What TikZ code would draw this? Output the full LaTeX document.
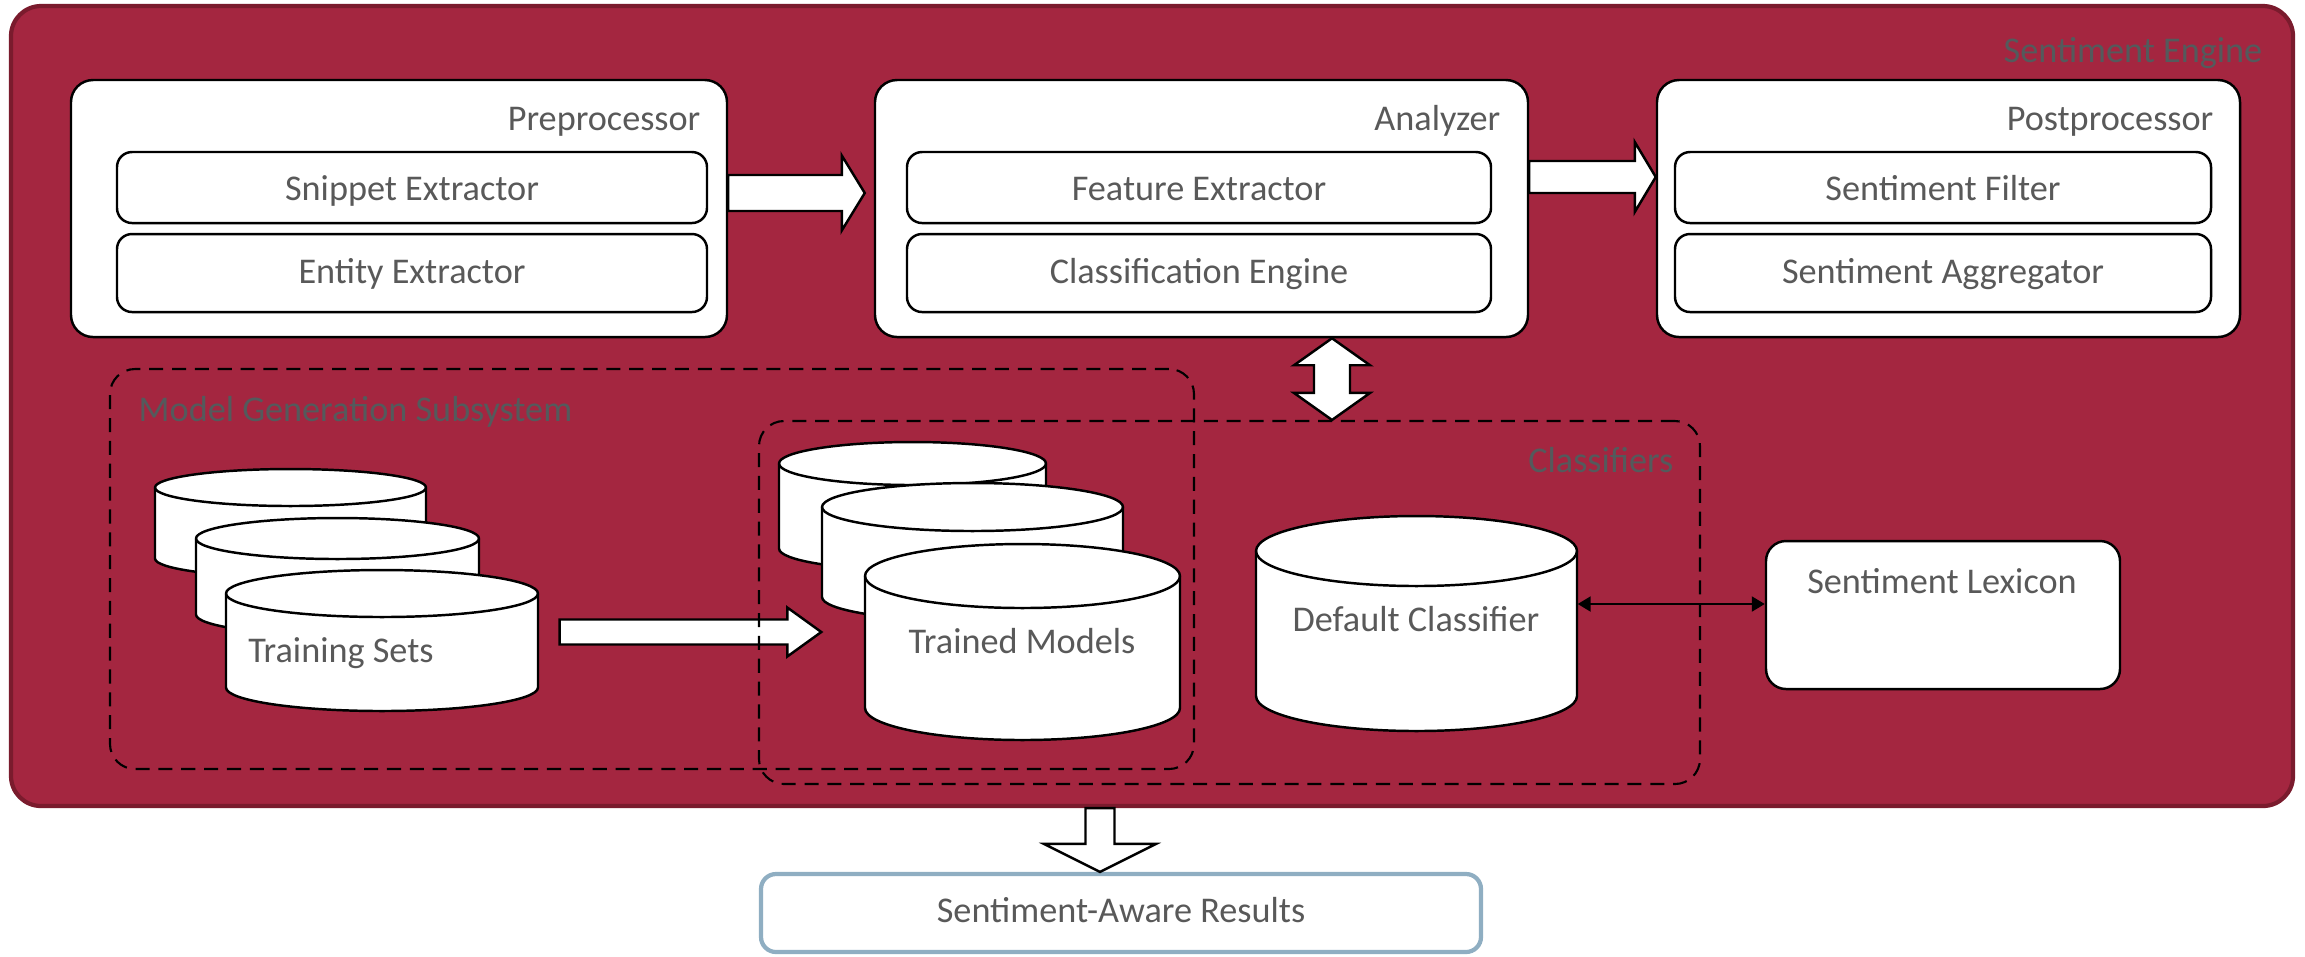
\documentclass[tikz,border=0pt]{standalone}
\usepackage{fontspec}
\setmainfont{Carlito}
\usetikzlibrary{calc,fit,arrows.meta}

\definecolor{enginered}{RGB}{164,38,64}
\definecolor{engineedge}{RGB}{122,27,45}
\definecolor{labelgray}{RGB}{89,89,89}
\definecolor{groupgray}{RGB}{84,90,92}
\definecolor{resultblue}{RGB}{143,174,194}

\newcommand{\lblfont}{\fontsize{10.3}{12}\selectfont}

\tikzset{
    engine/.style={draw=engineedge, fill=enginered, line width=1.2pt, rounded corners=0.3cm, inner sep=0pt},
    panel/.style={draw=black, fill=white, line width=0.7pt, rounded corners=0.22cm, inner sep=0pt},
    part/.style={panel, rounded corners=0.15cm},
    title/.style={font=\lblfont, text=labelgray, inner sep=0pt},
    grouptitle/.style={font=\lblfont, text=groupgray, inner sep=0pt},
    group/.style={draw=black, dash pattern=on 4pt off 2.5pt, line width=0.6pt, rounded corners=0.25cm, inner sep=0pt},
    blockarrow/.style={draw=black, fill=white, line width=0.7pt, line join=miter},
    db/.style={draw=black, fill=white, line width=0.7pt},
}

% block arrows: from, to, shaft half width, head half width, head length (px)
\newcommand{\rightblock}[5]{%
    \draw[blockarrow] let \p1=(#1), \p2=(#2) in
        (\x1,\y1+#3*0.01cm) -- (\x2-#5*0.01cm,\y1+#3*0.01cm) -- (\x2-#5*0.01cm,\y1+#4*0.01cm)
        -- (\x2,\y1) -- (\x2-#5*0.01cm,\y1-#4*0.01cm) -- (\x2-#5*0.01cm,\y1-#3*0.01cm)
        -- (\x1,\y1-#3*0.01cm) -- cycle;}
\newcommand{\downblock}[5]{%
    \draw[blockarrow] let \p1=(#1), \p2=(#2) in
        (\x1-#3*0.01cm,\y1) -- (\x1-#3*0.01cm,\y2+#5*0.01cm) -- (\x1-#4*0.01cm,\y2+#5*0.01cm)
        -- (\x1,\y2) -- (\x1+#4*0.01cm,\y2+#5*0.01cm) -- (\x1+#3*0.01cm,\y2+#5*0.01cm)
        -- (\x1+#3*0.01cm,\y1) -- cycle;}
\newcommand{\bothblock}[5]{%
    \draw[blockarrow] let \p1=(#1), \p2=(#2) in
        (\x1,\y1) -- (\x1+#4*0.01cm,\y1-#5*0.01cm) -- (\x1+#3*0.01cm,\y1-#5*0.01cm)
        -- (\x1+#3*0.01cm,\y2+#5*0.01cm) -- (\x1+#4*0.01cm,\y2+#5*0.01cm) -- (\x1,\y2)
        -- (\x1-#4*0.01cm,\y2+#5*0.01cm) -- (\x1-#3*0.01cm,\y2+#5*0.01cm)
        -- (\x1-#3*0.01cm,\y1-#5*0.01cm) -- (\x1-#4*0.01cm,\y1-#5*0.01cm) -- cycle;}

% database cylinder: name, left, top, right, bottom, y radius (px)
\newcommand{\dbcyl}[6]{%
    \draw[db] (#2,-#3-#6) -- (#2,-#5+#6)
        arc[start angle=180, end angle=360, x radius={(#4-#2)/2}, y radius=#6]
        -- (#4,-#3-#6)
        arc[start angle=0, end angle=180, x radius={(#4-#2)/2}, y radius=#6] -- cycle;
    \draw[db, fill=none] (#2,-#3-#6)
        arc[start angle=180, end angle=360, x radius={(#4-#2)/2}, y radius=#6];
    \node[inner sep=0pt, fit={(#2,-#3) (#4,-#5)}] (#1) {};}

\begin{document}
\begin{tikzpicture}[x=0.01cm, y=0.01cm]
    \useasboundingbox (0,0) rectangle (2305,-956);

    % Sentiment engine frame
    \node[engine, fit={(11,-6) (2293,-806)}] (eng) {};
    \node[grouptitle, anchor=base east] (engtitle) at (2263,-62) {Sentiment Engine};

    % Three stages
    \node[panel, fit={(71,-80) (727,-337)}] (pre) {};
    \node[title, anchor=base east] (pretitle) at (701,-130) {Preprocessor};
    \node[part, fit={(117,-152) (707,-223)}] (snip) {};
    \node[title, anchor=base] (sniptext) at ([yshift=-0.125cm]snip.center) {Snippet Extractor};
    \node[part, fit={(117,-234) (707,-312)}] (ent) {};
    \node[title, anchor=base] (enttext) at ([yshift=-0.1cm]ent.center) {Entity Extractor};

    \node[panel, fit={(875,-80) (1528,-337)}] (ana) {};
    \node[title, anchor=base east] (anatitle) at (1501,-130) {Analyzer};
    \node[part, fit={(907,-152) (1491,-223)}] (feat) {};
    \node[title, anchor=base] (feattext) at ([yshift=-0.125cm]feat.center) {Feature Extractor};
    \node[part, fit={(907,-234) (1491,-312)}] (clseng) {};
    \node[title, anchor=base] (clsengtext) at ([yshift=-0.1cm]clseng.center) {Classification Engine};

    \node[panel, fit={(1657,-80) (2240,-337)}] (post) {};
    \node[title, anchor=base east] (posttitle) at (2214,-130) {Postprocessor};
    \node[part, fit={(1675,-152) (2211,-223)}] (filt) {};
    \node[title, anchor=base] (filttext) at ([yshift=-0.125cm]filt.center) {Sentiment Filter};
    \node[part, fit={(1675,-234) (2211,-312)}] (aggr) {};
    \node[title, anchor=base] (aggrtext) at ([yshift=-0.1cm]aggr.center) {Sentiment Aggregator};

    % Flow between stages
    \rightblock{[yshift=0.155cm]pre.east}{[xshift=-0.09cm, yshift=0.155cm]ana.west}{18}{37.5}{23}
    \rightblock{[yshift=0.315cm]ana.east}{[yshift=0.315cm]post.west}{16}{35}{21}

    % Training sets
    \dbcyl{ts1}{155}{469}{426}{577}{18.5}
    \dbcyl{ts2}{196}{518}{479}{635}{20.5}
    \dbcyl{ts3}{226}{570}{538}{711}{23.5}
    \node[title, anchor=base] (tstitle) at (341,-662) {Training Sets};

    % Trained models
    \dbcyl{tm1}{779}{442}{1046}{570}{21.5}
    \dbcyl{tm2}{822}{483}{1123}{621}{24}
    \dbcyl{tm3}{865}{544}{1180}{740}{32}
    \node[title, anchor=base] (tmtitle) at (1022,-653) {Trained Models};

    \rightblock{[shift={(0.21cm,0.085cm)}]ts3.east}{tm2.west}{12.5}{24.5}{34}

    % Default classifier and lexicon
    \dbcyl{dc}{1256}{516}{1577}{731}{35}
    \node[title, anchor=base] (dctitle) at (1416,-631) {Default Classifier};

    \node[panel, rounded corners=0.2cm, fit={(1766,-541) (2120,-689)}] (lex) {};
    \node[title, anchor=base] (lextitle) at (1942,-593) {Sentiment Lexicon};
    \draw[{Triangle[length=0.13cm,width=0.15cm]}-{Triangle[length=0.13cm,width=0.15cm]}, line width=0.6pt]
        ([yshift=0.195cm]dc.east) -- ([yshift=0.195cm]dc.east -| lex.west);

    % Subsystem groups
    \node[group, fit={(110,-369) (1194,-769)}] (mgs) {};
    \node[grouptitle, anchor=base west] (mgstitle) at (138,-421) {Model Generation Subsystem};
    \node[group, fit={(759,-421) (1700,-784)}] (cls) {};
    \node[grouptitle, anchor=base east] (clstitle) at (1674,-472) {Classifiers};

    % Analyzer <-> classifiers
    \coordinate (dax) at (1332,-380);
    \bothblock{dax |- ana.south}{dax |- cls.north}{18}{38}{27}

    % Output
    \node[panel, draw=resultblue, line width=1.2pt, rounded corners=0.15cm, fit={(761,-874) (1481,-952)}] (res) {};
    \node[title, anchor=base] (restext) at ([yshift=-0.09cm]res.center) {Sentiment-Aware Results};
    \coordinate (outx) at ([xshift=-0.21cm]res.north);
    \downblock{outx |- eng.south}{outx}{14.5}{56}{28}
\end{tikzpicture}
\end{document}
